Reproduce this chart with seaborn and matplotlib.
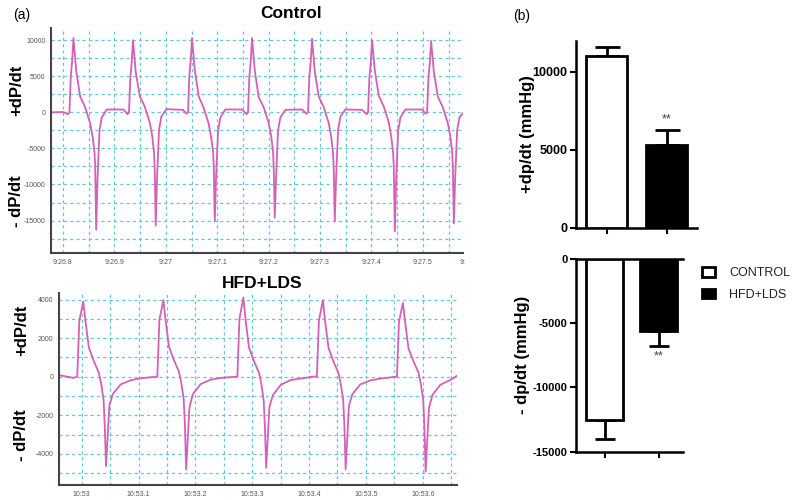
import numpy as np
import pandas as pd
import matplotlib
matplotlib.use("Agg")
import matplotlib.pyplot as plt
from matplotlib.patches import Patch
import seaborn as sns

# ---- data ----
# (a) Control trace: time in s after 9:26.8, dP/dt in mmHg/s
ctrl_t = [-0.0233, 0.0000,
          0.0097, 0.0126, 0.0151, 0.0179, 0.0204, 0.0257, 0.0334, 0.0432, 0.0529, 0.0579, 0.0613, 0.0626, 0.0646, 0.0671, 0.0710, 0.0755, 0.0852, 0.1177,
          0.1255, 0.1284, 0.1309, 0.1337, 0.1362, 0.1415, 0.1492, 0.1590, 0.1687, 0.1737, 0.1771, 0.1784, 0.1804, 0.1829, 0.1868, 0.1913, 0.2010, 0.2335,
          0.2403, 0.2432, 0.2457, 0.2485, 0.2510, 0.2563, 0.2640, 0.2738, 0.2835, 0.2885, 0.2919, 0.2932, 0.2952, 0.2977, 0.3016, 0.3061, 0.3158, 0.3483,
          0.3570, 0.3599, 0.3624, 0.3652, 0.3677, 0.3730, 0.3807, 0.3905, 0.4002, 0.4052, 0.4086, 0.4099, 0.4119, 0.4144, 0.4183, 0.4228, 0.4325, 0.4650,
          0.4737, 0.4766, 0.4791, 0.4819, 0.4844, 0.4897, 0.4974, 0.5072, 0.5169, 0.5219, 0.5253, 0.5266, 0.5286, 0.5311, 0.5350, 0.5395, 0.5492, 0.5817,
          0.5905, 0.5934, 0.5959, 0.5987, 0.6012, 0.6065, 0.6142, 0.6240, 0.6337, 0.6387, 0.6421, 0.6434, 0.6454, 0.6479, 0.6518, 0.6563, 0.6660, 0.6985,
          0.7053, 0.7082, 0.7107, 0.7135, 0.7160, 0.7213, 0.7290, 0.7388, 0.7485, 0.7535, 0.7569, 0.7582, 0.7602, 0.7627, 0.7666, 0.7711, 0.7780]
ctrl_dp = [0, 50,
           -250, 0, 4900, 7200, 10300, 5800, 2200, 700, -1500, -3500, -5500, -7500, -16250, -9400, -2500, -700, 400, 400,
           -250, 0, 4700, 7000, 10000, 5600, 2300, 800, -1400, -3300, -5600, -7800, -15700, -9200, -2400, -600, 450, 350,
           -200, 0, 5000, 7300, 10300, 5900, 2200, 600, -1600, -3600, -5400, -7400, -15100, -9000, -2600, -700, 400, 400,
           -250, 0, 4800, 7200, 10300, 5800, 2100, 700, -1500, -3400, -5500, -7600, -14600, -9100, -2500, -700, 350, 400,
           -200, 0, 4900, 7100, 10200, 5700, 2200, 700, -1500, -3500, -5700, -7700, -15100, -9300, -2500, -600, 400, 350,
           -250, 0, 4800, 7000, 10000, 5800, 2300, 800, -1400, -3500, -5600, -7500, -16500, -9500, -2600, -700, 400, 400,
           -200, 0, 4700, 6900, 9900, 5600, 2200, 700, -1500, -3400, -5500, -7400, -15400, -9200, -2500, -700, -100]

# (a) HFD+LDS trace: time in s after 10:53
hfd_t = [-0.0394, -0.0250, -0.0150,
         -0.0078, -0.0042, 0.0028, 0.0068, 0.0127, 0.0215, 0.0303, 0.0345, 0.0385, 0.0407, 0.0428, 0.0454, 0.0486, 0.0547, 0.0685, 0.0861, 0.1037, 0.1301,
         0.1331, 0.1367, 0.1437, 0.1477, 0.1536, 0.1624, 0.1712, 0.1754, 0.1794, 0.1816, 0.1837, 0.1863, 0.1895, 0.1956, 0.2094, 0.2270, 0.2446, 0.2710,
         0.2739, 0.2775, 0.2845, 0.2885, 0.2944, 0.3032, 0.3120, 0.3162, 0.3202, 0.3224, 0.3245, 0.3271, 0.3303, 0.3364, 0.3502, 0.3678, 0.3854, 0.4118,
         0.4137, 0.4173, 0.4243, 0.4283, 0.4342, 0.4430, 0.4518, 0.4560, 0.4600, 0.4622, 0.4643, 0.4669, 0.4701, 0.4762, 0.4900, 0.5076, 0.5252, 0.5516,
         0.5545, 0.5581, 0.5651, 0.5691, 0.5750, 0.5838, 0.5926, 0.5968, 0.6008, 0.6030, 0.6051, 0.6077, 0.6109, 0.6170, 0.6308, 0.6484, 0.6600]
hfd_dp = [80, 0, -60,
          0, 2900, 3890, 2850, 1500, 800, 200, -400, -1200, -2600, -4630, -3300, -1500, -900, -400, -180, -80, 0,
          0, 2950, 3970, 2900, 1550, 850, 250, -350, -1150, -2500, -4800, -3400, -1600, -900, -380, -150, -60, 0,
          0, 3000, 4110, 2900, 1500, 800, 200, -400, -1250, -2650, -4720, -3300, -1550, -950, -420, -170, -90, 20,
          0, 2900, 3970, 2850, 1500, 780, 180, -420, -1200, -2600, -4800, -3350, -1500, -900, -400, -190, -100, 0,
          0, 2850, 3830, 2800, 1450, 800, 200, -400, -1200, -2700, -4920, -3400, -1600, -950, -420, -170, 50]

ctrl_ticks = [0.0, 0.1, 0.2, 0.3, 0.4, 0.5, 0.6, 0.7, 0.778]
ctrl_ticklabels = ["9:26.8", "9:26.9", "9:27", "9:27.1", "9:27.2", "9:27.3", "9:27.4", "9:27.5", "9:"]
hfd_ticks = [0.0, 0.1, 0.2, 0.3, 0.4, 0.5, 0.6]
hfd_ticklabels = ["10:53", "10:53.1", "10:53.2", "10:53.3", "10:53.4", "10:53.5", "10:53.6"]

# (b) group means and SEM
groups = ["CONTROL", "HFD+LDS"]
plus_mean = [11030, 5330]
plus_sem = [570, 910]
minus_mean = [-12520, -5600]
minus_sem = [1500, 1170]

# ---- style ----
sns.set_theme(style="white")
plt.rcParams["font.family"] = ["Liberation Sans", "DejaVu Sans"]
plt.rcParams["text.color"] = "black"
plt.rcParams["axes.labelcolor"] = "black"
plt.rcParams["xtick.color"] = "black"
plt.rcParams["ytick.color"] = "black"

line_col = "#d660b4"
grid_col = "#62c6de"
grid_ls = (0, (2.5, 2.5))

fig = plt.figure(figsize=(8, 5), dpi=100)


def trace_panel(rect, t, dp, xlim, ylim, xt, xtl, yt, yminor, xminor):
    ax = fig.add_axes(rect)
    df = pd.DataFrame({"t": t, "dp": dp})
    sns.lineplot(data=df, x="t", y="dp", ax=ax, color=line_col, lw=1.3,
                 estimator=None, sort=False)
    ax.set_xlim(*xlim)
    ax.set_ylim(*ylim)
    ax.set_xticks(xt)
    ax.set_xticklabels(xtl)
    ax.set_yticks(yt)
    ax.set_yticklabels([str(v) for v in yt])
    ax.set_yticks(yminor, minor=True)
    ax.set_xticks(xminor, minor=True)
    ax.grid(which="both", color=grid_col, ls=grid_ls, lw=0.9)
    ax.tick_params(which="minor", length=0)
    ax.tick_params(which="major", length=2, width=0.8, color="#777",
                   labelsize=5, labelcolor="#555", pad=2)
    ax.set_xlabel("")
    ax.set_ylabel("")
    for s in ["top", "right"]:
        ax.spines[s].set_visible(False)
    for s in ["left", "bottom"]:
        ax.spines[s].set_color("#444")
        ax.spines[s].set_linewidth(1.5)
    return ax


ax1 = trace_panel([0.06375, 0.494, 0.515, 0.45], ctrl_t, ctrl_dp,
                  (-0.0233, 0.778), (-19500, 11700), ctrl_ticks, ctrl_ticklabels,
                  [10000, 5000, 0, -5000, -10000, -15000],
                  np.arange(-17500, 11000, 2500), np.arange(0, 0.76, 0.05))
ax2 = trace_panel([0.0741, 0.03, 0.497, 0.384], hfd_t, hfd_dp,
                  (-0.0394, 0.66), (-5610, 4340), hfd_ticks, hfd_ticklabels,
                  [4000, 2000, 0, -2000, -4000],
                  np.arange(-5000, 4500, 1000), np.arange(0, 0.66, 0.05))

fig.text(0.364, 0.974, "Control", ha="center", va="center", fontsize=12.5, fontweight="bold")
fig.text(0.3275, 0.434, "HFD+LDS", ha="center", va="center", fontsize=12.5, fontweight="bold")
fig.text(0.017, 0.97, "(a)", ha="left", va="center", fontsize=10)
fig.text(0.641, 0.968, "(b)", ha="left", va="center", fontsize=10)

for x, y, s in [(0.021, 0.82, "+dP/dt"), (0.021, 0.598, "- dP/dt"),
                (0.027, 0.34, "+dP/dt"), (0.027, 0.13, "- dP/dt")]:
    fig.text(x, y, s, rotation=90, ha="center", va="center",
             fontsize=12, fontweight="bold")


def bar_panel(rect, means, sems, ylim, yt, ylabel, upward, xlim, capsize,
              labelx, ticksize):
    ax = fig.add_axes(rect)
    sns.barplot(x=groups, y=means, hue=groups, palette=["white", "black"],
                edgecolor="black", linewidth=2, width=0.68, legend=False,
                ax=ax, zorder=3)
    if upward:
        yerr = [[0, 0], sems]
    else:
        yerr = [sems, [0, 0]]
    ax.errorbar(x=[0, 1], y=means, yerr=yerr, fmt="none", ecolor="black",
                elinewidth=2, capsize=capsize, capthick=2, zorder=2)
    ax.set_xlim(*xlim)
    ax.set_ylim(*ylim)
    ax.set_yticks(yt)
    ax.set_yticklabels([str(v) for v in yt], fontweight="bold")
    ax.set_xticks([0, 1])
    ax.set_xticklabels(["", ""])
    ax.tick_params(axis="both", length=4, width=1.5, color="black",
                   labelsize=ticksize, pad=2, bottom=True, left=True)
    ax.set_ylabel(ylabel, fontsize=12, fontweight="bold")
    ax.yaxis.set_label_coords(labelx, 0.5)
    ax.set_xlabel("")
    ax.spines["right"].set_visible(False)
    ax.spines["top"].set_visible(not upward)
    for s in ["left", "bottom", "top"]:
        ax.spines[s].set_linewidth(1.8)
        ax.spines[s].set_color("black")
    return ax


ax3 = bar_panel([0.72, 0.5446, 0.151, 0.374], plus_mean, plus_sem,
                (0, 12000), [0, 5000, 10000], "+dp/dt (mmHg)", True,
                (-0.51, 1.5), 9, -0.34, 9)
ax3.text(1, plus_mean[1] + plus_sem[1] + 350, "**", ha="center", va="bottom",
         fontsize=9, color="#444")

ax4 = bar_panel([0.72, 0.0966, 0.134, 0.3854], minus_mean, minus_sem,
                (-15000, 0), [-15000, -10000, -5000, 0], "- dp/dt (mmHg)", False,
                (-0.53, 1.45), 7.5, -0.43, 8)
ax4.text(1, minus_mean[1] - minus_sem[1] - 350, "**", ha="center", va="top",
         fontsize=9, color="#444")

handles = [Patch(facecolor="white", edgecolor="black", linewidth=2),
           Patch(facecolor="black", edgecolor="black", linewidth=2)]
fig.legend(handles, groups, loc="upper left", bbox_to_anchor=(0.8775, 0.466),
           frameon=False, fontsize=9, handlelength=1.05, handleheight=0.8,
           handletextpad=1.1, labelspacing=0.75, borderpad=0, borderaxespad=0,
           labelcolor="#222")

fig.savefig("out.png", dpi=100)
